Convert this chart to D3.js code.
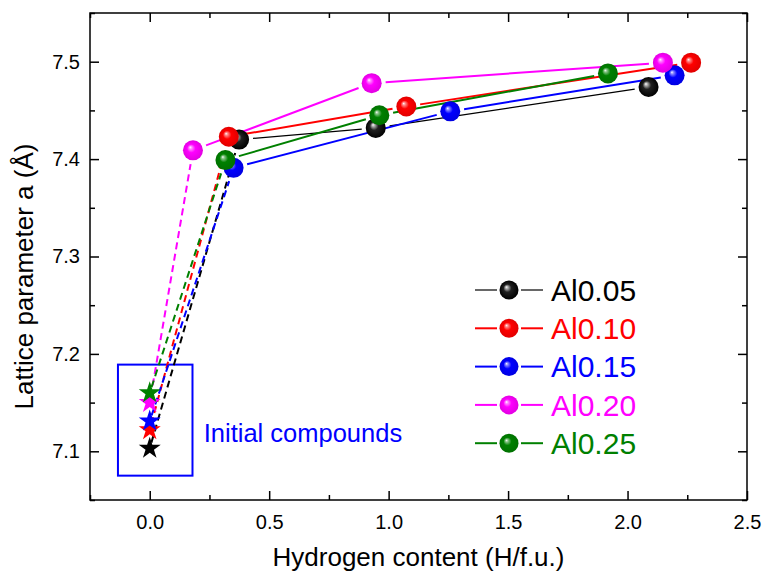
<!DOCTYPE html>
<html><head><meta charset="utf-8">
<script src="https://cdn.jsdelivr.net/npm/d3@7"></script>
<style>body{margin:0;background:#fff}svg{display:block;font-family:"Liberation Sans",Arial,sans-serif}</style>
</head><body><svg id="c" width="763" height="573"></svg>
<script>
// ---- data ----
const seriesNames = ["Al0.05", "Al0.10", "Al0.15", "Al0.20", "Al0.25"];
const seriesColors = ["#000000", "#ff0000", "#0000ff", "#ff00ff", "#008000"];
const initialH = [0, 0, 0, 0, 0];
const initialA = [7.103, 7.122, 7.131, 7.150, 7.160];
const hydrogenX = [
  [0.374, 0.946, 2.088],
  [0.331, 1.074, 2.266],
  [0.351, 1.258, 2.197],
  [0.181, 0.929, 2.148],
  [0.317, 0.961, 1.918]
];
const latticeA = [
  [7.420, 7.432, 7.474],
  [7.423, 7.454, 7.499],
  [7.391, 7.449, 7.486],
  [7.409, 7.478, 7.499],
  [7.399, 7.445, 7.488]
];
const xTicks = [0, 0.5, 1.0, 1.5, 2.0, 2.5];
const xMinor = [-0.25, 0.25, 0.75, 1.25, 1.75, 2.25];
const yTicks = [7.1, 7.2, 7.3, 7.4, 7.5];
const yMinor = [7.05, 7.15, 7.25, 7.35, 7.45, 7.55];
const boxH = [-0.133, 0.179];
const boxA = [7.075, 7.189];
const noteText = "Initial compounds";
const noteAt = [0.226, 7.110];
const xTitle = "Hydrogen content (H/f.u.)";
const yTitle = "Lattice parameter a (Å)";

// ---- layout ----
const L = 90, R = 747, T = 13, B = 500;
const svg = d3.select("#c");
const x = d3.scaleLinear([-0.25, 2.5], [L, R]);
const y = d3.scaleLinear([7.05, 7.55], [B, T]);

// gradients
const defs = svg.append("defs");
seriesColors.forEach((c, i) => {
  const g = defs.append("radialGradient").attr("id", "sph" + i)
    .attr("cx", "50%").attr("cy", "50%").attr("r", "50%")
    .attr("fx", "36%").attr("fy", "34%");
  const base = d3.color(c);
  const mid = d3.interpolateRgb("#ffffff", c);
  const stops = i === 0
    ? [[0, "#ffffff"], [0.14, "#b0b0b0"], [0.42, "#202020"], [1, "#000000"]]
    : [[0, "#ffffff"], [0.14, mid(0.45)], [0.42, c], [1, base.darker(0.35).formatHex()]];
  stops.forEach(s => g.append("stop").attr("offset", s[0]).attr("stop-color", s[1]));
});

// axes
function styleAxis(g) {
  g.selectAll(".domain").remove();
  g.selectAll("line").attr("stroke", "#000").attr("stroke-width", 1.5);
  g.selectAll("text").attr("font-size", 20).attr("fill", "#000")
    .attr("font-family", "'Liberation Sans', Arial, sans-serif");
}
svg.append("g").attr("transform", `translate(0,${B})`)
  .call(d3.axisBottom(x).tickValues(xTicks).tickFormat(d3.format(".1f")).tickSizeInner(-9).tickSizeOuter(0).tickPadding(15))
  .call(styleAxis);
svg.append("g").attr("transform", `translate(0,${B})`)
  .call(d3.axisBottom(x).tickValues(xMinor).tickFormat("").tickSizeInner(-5).tickSizeOuter(0))
  .call(styleAxis);
svg.append("g").attr("transform", `translate(0,${T})`)
  .call(d3.axisTop(x).tickValues(xTicks).tickFormat("").tickSizeInner(-9).tickSizeOuter(0))
  .call(styleAxis);
svg.append("g").attr("transform", `translate(0,${T})`)
  .call(d3.axisTop(x).tickValues(xMinor).tickFormat("").tickSizeInner(-5).tickSizeOuter(0))
  .call(styleAxis);
svg.append("g").attr("transform", `translate(${L},0)`)
  .call(d3.axisLeft(y).tickValues(yTicks).tickFormat(d3.format(".1f")).tickSizeInner(-9).tickSizeOuter(0).tickPadding(10))
  .call(styleAxis);
svg.append("g").attr("transform", `translate(${L},0)`)
  .call(d3.axisLeft(y).tickValues(yMinor).tickFormat("").tickSizeInner(-5).tickSizeOuter(0))
  .call(styleAxis);
svg.append("g").attr("transform", `translate(${R},0)`)
  .call(d3.axisRight(y).tickValues(yTicks).tickFormat("").tickSizeInner(-9).tickSizeOuter(0))
  .call(styleAxis);
svg.append("g").attr("transform", `translate(${R},0)`)
  .call(d3.axisRight(y).tickValues(yMinor).tickFormat("").tickSizeInner(-5).tickSizeOuter(0))
  .call(styleAxis);
svg.append("rect").attr("x", L).attr("y", T).attr("width", R - L).attr("height", B - T)
  .attr("fill", "none").attr("stroke", "#000").attr("stroke-width", 1.5);

// titles
svg.append("text").attr("x", (L + R) / 2).attr("y", 566).attr("text-anchor", "middle")
  .attr("font-size", 26).text(xTitle);
svg.append("text").attr("transform", `translate(33,${(T + B) / 2 + 20}) rotate(-90)`)
  .attr("text-anchor", "middle").attr("font-size", 26).text(yTitle);

// annotation box
svg.append("rect").attr("x", x(boxH[0])).attr("y", y(boxA[1]))
  .attr("width", x(boxH[1]) - x(boxH[0])).attr("height", y(boxA[0]) - y(boxA[1]))
  .attr("fill", "none").attr("stroke", "#0000ff").attr("stroke-width", 2);
svg.append("text").attr("x", x(noteAt[0])).attr("y", y(noteAt[1]))
  .attr("font-size", 25.5).attr("fill", "#0000ff").text(noteText);

// lines
function seg(p0, p1, g0, g1) {
  const dx = p1[0] - p0[0], dy = p1[1] - p0[1], d = Math.hypot(dx, dy);
  const ux = dx / d, uy = dy / d;
  return [[p0[0] + ux * g0, p0[1] + uy * g0], [p1[0] - ux * g1, p1[1] - uy * g1]];
}
const lineG = svg.append("g");
seriesNames.forEach((n, i) => {
  const pts = [[x(initialH[i]), y(initialA[i])]].concat(hydrogenX[i].map((h, j) => [x(h), y(latticeA[i][j])]));
  for (let k = 0; k < pts.length - 1; k++) {
    const s = seg(pts[k], pts[k + 1], k === 0 ? 6 : 14, 14);
    lineG.append("line").attr("x1", s[0][0]).attr("y1", s[0][1]).attr("x2", s[1][0]).attr("y2", s[1][1])
      .attr("stroke", seriesColors[i])
      .attr("stroke-width", k === 0 ? 2 : (i === 0 ? 1.2 : 2))
      .attr("stroke-dasharray", k === 0 ? "7,4.5" : null);
  }
});

// stars
const star = d3.symbol().type(d3.symbolStar).size(150);
seriesNames.forEach((n, i) => {
  svg.append("path").attr("d", star())
    .attr("transform", `translate(${x(initialH[i])},${y(initialA[i])})`)
    .attr("fill", seriesColors[i]);
});

// spheres
seriesNames.forEach((n, i) => {
  svg.append("g").selectAll("circle").data(hydrogenX[i]).join("circle")
    .attr("cx", d => x(d)).attr("cy", (d, j) => y(latticeA[i][j])).attr("r", 10)
    .attr("fill", `url(#sph${i})`);
});

// legend
const leg = svg.append("g");
seriesNames.forEach((n, i) => {
  const cy = 290 + i * 38.3;
  const g = leg.append("g").attr("transform", `translate(0,${cy})`);
  g.append("line").attr("x1", 475).attr("x2", 497).attr("y1", 0).attr("y2", 0)
    .attr("stroke", seriesColors[i]).attr("stroke-width", i === 0 ? 1.2 : 2);
  g.append("line").attr("x1", 521).attr("x2", 543).attr("y1", 0).attr("y2", 0)
    .attr("stroke", seriesColors[i]).attr("stroke-width", i === 0 ? 1.2 : 2);
  g.append("circle").attr("cx", 509).attr("cy", 0).attr("r", 9.5).attr("fill", `url(#sph${i})`);
  g.append("text").attr("x", 551).attr("y", 10.8).attr("font-size", 30)
    .attr("fill", seriesColors[i]).text(n);
});
</script></body></html>
